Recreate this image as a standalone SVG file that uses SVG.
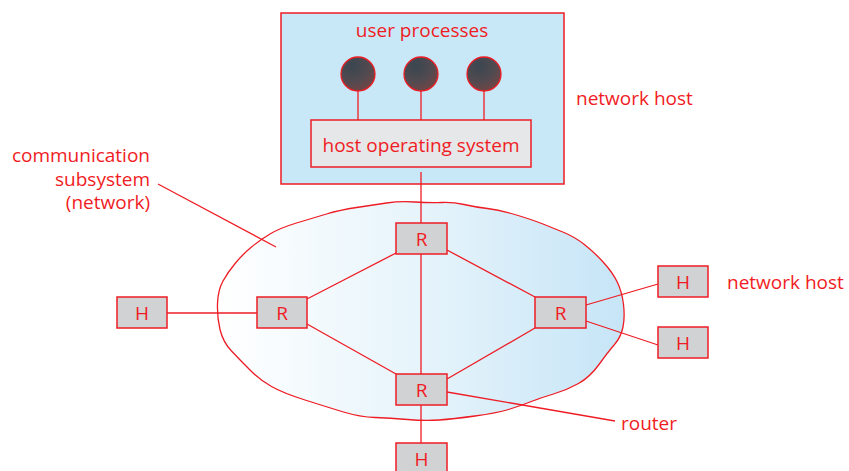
<svg xmlns="http://www.w3.org/2000/svg" width="849" height="471" viewBox="0 0 849 471">
<defs>
<linearGradient id="cloudGrad" x1="217" y1="0" x2="625" y2="0" gradientUnits="userSpaceOnUse">
<stop offset="0" stop-color="#ffffff"/>
<stop offset="0.5" stop-color="#e6f4fb"/>
<stop offset="1" stop-color="#c6e5f7"/>
</linearGradient>
<radialGradient id="procGrad" cx="0.35" cy="0.25" r="0.8" fx="0.35" fy="0.25">
<stop offset="0" stop-color="#3a4650"/>
<stop offset="0.6" stop-color="#524a50"/>
<stop offset="1" stop-color="#744444"/>
</radialGradient>
<style>
.edge{stroke:#ee1c24;stroke-width:1.3;fill:none}
.box{fill:#d1d2d4;stroke:#ee1c24;stroke-width:1.5}
.lbl{font-family:"Open Sans","Noto Sans",sans-serif;font-size:19px;fill:#f01c24}
.mid{text-anchor:middle}
</style>
</defs>
<rect width="849" height="471" fill="#ffffff"/>

<g id="cloud">
<path fill="url(#cloudGrad)" stroke="#ee1c24" stroke-width="1.3" d="M270,234 Q280,228 296.5,223 Q313,218 326.5,214 Q340,210 356.5,207.5 Q373,205 386.5,203 Q400,201 415,202 Q430,203 441.5,202.5 Q453,202 464,204.5 Q475,207 487.5,208.5 Q500,210 516.5,215 Q533,220 543,224 Q553,228 564,232.5 Q575,237 585,245 Q595,253 604,263 Q613,273 617.5,282.5 Q622,292 623.5,304.5 Q625,317 623,327 Q621,337 614.5,344.5 Q608,352 599,364.5 Q590,377 578.5,383.5 Q567,390 553.5,394 Q540,398 530,402 Q520,406 508.5,409.5 Q497,413 475,416 Q453,419 439,420 Q425,421 407.5,419.5 Q390,418 375,417.5 Q360,417 343.5,412 Q327,407 305,400 Q283,393 271.5,386.5 Q260,380 250,370 Q240,360 231.5,351 Q223,342 220,329.5 Q217,317 217.5,303.5 Q218,290 223,281 Q228,272 235.5,263 Q243,254 251.5,247 Q260,240 270,234 Z"/>
</g>

<g id="network-host-top">
<rect x="281" y="13" width="283" height="171" fill="#c8e8f8" stroke="#ee1c24" stroke-width="1.5"/>
<text class="lbl mid" x="422" y="37">user processes</text>
</g>

<g id="connectors">
<line class="edge" x1="358" y1="74" x2="358" y2="120"/>
<line class="edge" x1="421" y1="74" x2="421" y2="120"/>
<line class="edge" x1="484" y1="74" x2="484" y2="120"/>
<line class="edge" x1="421" y1="172" x2="421" y2="223"/>
<line class="edge" x1="421" y1="254" x2="421" y2="374"/>
<line class="edge" x1="421" y1="405" x2="421" y2="443"/>
<line class="edge" x1="167" y1="313" x2="257" y2="313"/>
<line class="edge" x1="307" y1="299" x2="396" y2="253"/>
<line class="edge" x1="307" y1="324" x2="396" y2="374"/>
<line class="edge" x1="447" y1="250" x2="535" y2="297"/>
<line class="edge" x1="447" y1="379" x2="535" y2="328"/>
<line class="edge" x1="586" y1="305" x2="658" y2="284"/>
<line class="edge" x1="586" y1="321" x2="658" y2="345"/>
<line class="edge" x1="447" y1="392" x2="615" y2="421"/>
<line class="edge" x1="158" y1="184" x2="276" y2="247"/>
</g>

<g id="proc1"><circle cx="358" cy="74" r="17" fill="url(#procGrad)" stroke="#ee1c24" stroke-width="1.3"/></g>
<g id="proc2"><circle cx="421" cy="74" r="17" fill="url(#procGrad)" stroke="#ee1c24" stroke-width="1.3"/></g>
<g id="proc3"><circle cx="484" cy="74" r="17" fill="url(#procGrad)" stroke="#ee1c24" stroke-width="1.3"/></g>

<g id="host-os">
<rect x="311" y="120" width="220" height="47" fill="#e6e7e8" stroke="#ee1c24" stroke-width="1.5"/>
<text class="lbl mid" x="421" y="152">host operating system</text>
</g>

<g id="router-top"><rect class="box" x="396" y="223" width="51" height="31"/><text class="lbl mid" x="421.5" y="245.5">R</text></g>
<g id="router-left"><rect class="box" x="257" y="297" width="50" height="31"/><text class="lbl mid" x="282" y="319.5">R</text></g>
<g id="router-right"><rect class="box" x="535" y="297" width="51" height="31"/><text class="lbl mid" x="560.5" y="319.5">R</text></g>
<g id="router-bottom"><rect class="box" x="396" y="374" width="51" height="31"/><text class="lbl mid" x="421.5" y="396.5">R</text></g>

<g id="host-left"><rect class="box" x="117" y="297" width="50" height="31"/><text class="lbl mid" x="142" y="319.5">H</text></g>
<g id="host-right-top"><rect class="box" x="658" y="266" width="50" height="31"/><text class="lbl mid" x="683" y="288.5">H</text></g>
<g id="host-right-bottom"><rect class="box" x="658" y="327" width="50" height="31"/><text class="lbl mid" x="683" y="349.5">H</text></g>
<g id="host-bottom"><rect class="box" x="396" y="443" width="51" height="31"/><text class="lbl mid" x="421.5" y="465.5">H</text></g>

<g id="labels">
<text class="lbl" x="576" y="105">network host</text>
<text class="lbl" x="727" y="289">network host</text>
<text class="lbl" x="621" y="430">router</text>
<text class="lbl" text-anchor="end" x="150" y="162">communication</text>
<text class="lbl" text-anchor="end" x="150" y="186">subsystem</text>
<text class="lbl" text-anchor="end" x="150" y="209">(network)</text>
</g>
</svg>
